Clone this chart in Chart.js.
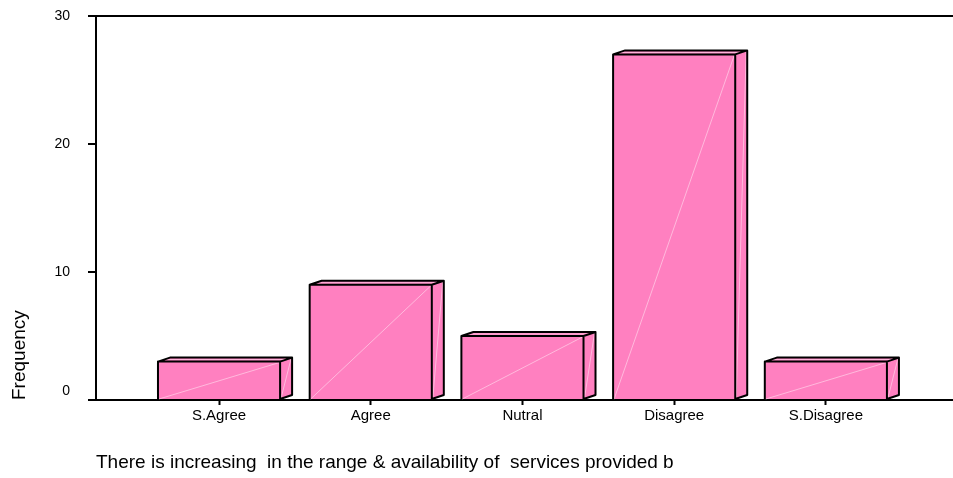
<!DOCTYPE html>
<html>
<head>
<meta charset="utf-8">
<script src="https://cdn.jsdelivr.net/npm/chart.js@4/dist/chart.umd.min.js"></script>
<style>
  html, body { margin: 0; padding: 0; background: #fff; }
  #wrap { width: 953px; height: 478px; position: relative; }
</style>
</head>
<body>
<div id="wrap"><canvas id="chart" width="953" height="478"></canvas></div>
<script>
// Response categories and their counts
const categories = ['S.Agree', 'Agree', 'Nutral', 'Disagree', 'S.Disagree'];
const frequencies = [3, 9, 5, 27, 3];
const yTicks = [0, 10, 20, 30];
const questionText = 'There is increasing  in the range & availability of  services provided b';
const yTitle = 'Frequency';

const FONT = '"Liberation Sans", Arial, sans-serif';
const PINK = '#FF80C0';

// Extruded faces (top + right side) and outline for each bar
const depthBars = {
  id: 'depthBars',
  afterDatasetsDraw(chart) {
    const ctx = chart.ctx;
    const meta = chart.getDatasetMeta(0);
    const dx = 12, dy = 4;
    ctx.save();
    meta.data.forEach(bar => {
      const { x, y, base, width } = bar.getProps(['x', 'y', 'base', 'width'], true);
      const L = x - width / 2, R = x + width / 2, T = y, B = base;
      // top face
      ctx.beginPath();
      ctx.moveTo(L, T); ctx.lineTo(L + dx, T - dy); ctx.lineTo(R + dx, T - dy); ctx.lineTo(R, T); ctx.closePath();
      ctx.fillStyle = PINK; ctx.fill();
      // side face
      ctx.beginPath();
      ctx.moveTo(R, T); ctx.lineTo(R + dx, T - dy); ctx.lineTo(R + dx, B - dy); ctx.lineTo(R, B); ctx.closePath();
      ctx.fill();
      // soft highlight lines
      ctx.strokeStyle = 'rgba(255,255,255,0.45)';
      ctx.lineWidth = 1;
      ctx.beginPath();
      ctx.moveTo(L + 1, B); ctx.lineTo(R - 1, T + 1);
      ctx.moveTo(R + 1, B - 1); ctx.lineTo(R + dx - 1, T - dy + 1);
      ctx.moveTo(L + dx / 2 + 2, T - dy / 2); ctx.lineTo(R + dx / 2 - 2, T - dy / 2);
      ctx.stroke();
      // outlines
      ctx.strokeStyle = '#000';
      ctx.lineWidth = 2;
      ctx.lineJoin = 'round';
      ctx.lineCap = 'round';
      ctx.beginPath();
      ctx.moveTo(L, B); ctx.lineTo(L, T); ctx.lineTo(R, T); ctx.lineTo(R, B);
      ctx.moveTo(L, T); ctx.lineTo(L + dx, T - dy); ctx.lineTo(R + dx, T - dy); ctx.lineTo(R, T);
      ctx.moveTo(R + dx, T - dy); ctx.lineTo(R + dx, B - dy); ctx.lineTo(R, B);
      ctx.stroke();
    });
    ctx.restore();
  }
};

new Chart(document.getElementById('chart'), {
  type: 'bar',
  data: {
    datasets: [{
      data: categories.map((c, i) => ({ x: i, y: frequencies[i] })),
      backgroundColor: PINK,
      borderWidth: 0,
      categoryPercentage: 1,
      barPercentage: 0.805
    }]
  },
  options: {
    responsive: false,
    animation: false,
    events: [],
    layout: { padding: { top: 16, left: 0, right: 0, bottom: 0 } },
    plugins: { legend: { display: false }, tooltip: { enabled: false } },
    scales: {
      x: {
        type: 'linear',
        offset: false,
        min: -0.811,
        max: 4.838,
        afterBuildTicks: axis => { axis.ticks = categories.map((c, i) => ({ value: i })); },
        afterFit: scale => { scale.height = 78; },
        ticks: {
          autoSkip: false,
          maxRotation: 0,
          padding: 2,
          color: '#000',
          font: { family: FONT, size: 15 },
          callback: v => categories[v]
        },
        grid: { display: true, offset: false, drawOnChartArea: false, tickLength: 5, tickColor: '#000', tickWidth: 2 },
        border: { display: true, color: '#000', width: 2 },
        title: {
          display: true,
          text: questionText,
          align: 'start',
          color: '#000',
          font: { family: FONT, size: 19 },
          padding: { top: 0, bottom: 3.5 }
        }
      },
      y: {
        min: 0,
        max: 30,
        afterBuildTicks: axis => { axis.ticks = yTicks.map(v => ({ value: v })); },
        afterFit: scale => { scale.width = 96; scale.paddingTop = 0; scale.paddingBottom = 0; },
        ticks: {
          padding: 18,
          color: '#000',
          font: { family: FONT, size: 14 },
          callback: v => (v === 0 ? ['0', ''] : String(v))
        },
        grid: {
          display: true,
          drawOnChartArea: true,
          color: c => (c.tick && c.tick.value === 30 ? '#000' : 'rgba(0,0,0,0)'),
          lineWidth: 2,
          tickLength: 8,
          tickColor: '#000',
          tickWidth: 2
        },
        border: { display: true, color: '#000', width: 2 },
        title: {
          display: true,
          text: yTitle,
          align: 'start',
          color: '#000',
          font: { family: FONT, size: 19 },
          padding: { top: 8, bottom: 0 }
        }
      }
    }
  },
  plugins: [depthBars]
});
</script>
</body>
</html>
